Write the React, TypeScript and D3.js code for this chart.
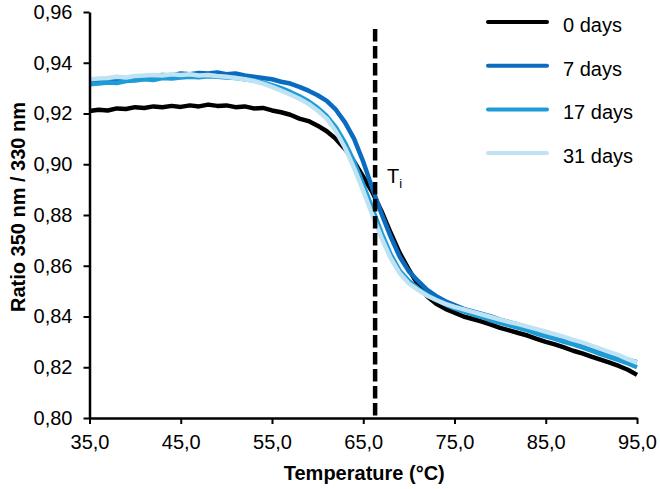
import React, { useEffect, useRef } from 'react'
import * as d3 from 'd3'

// temperatures, 1 °C steps
const temps: number[] = d3.range(35, 96, 1)

const day0: number[] = [
  0.9210, 0.9215, 0.9212, 0.9220, 0.9218, 0.9225, 0.9222, 0.9228, 0.9225, 0.9230,
  0.9226, 0.9232, 0.9228, 0.9235, 0.9230, 0.9232, 0.9225, 0.9228, 0.9220, 0.9222,
  0.9212, 0.9205, 0.9195, 0.9180, 0.9170, 0.9152, 0.9130, 0.9100, 0.9060, 0.9010,
  0.8950, 0.8890, 0.8815, 0.8730, 0.8650, 0.8585, 0.8525, 0.8480, 0.8450, 0.8430,
  0.8415, 0.8400, 0.8390, 0.8380, 0.8368, 0.8355, 0.8345, 0.8335, 0.8325, 0.8312,
  0.8300, 0.8290, 0.8278, 0.8265, 0.8255, 0.8242, 0.8230, 0.8218, 0.8205, 0.8190,
  0.8170,
]

const day7: number[] = [
  0.9320, 0.9325, 0.9330, 0.9332, 0.9338, 0.9340, 0.9345, 0.9348, 0.9352, 0.9350,
  0.9358, 0.9355, 0.9360, 0.9358, 0.9362, 0.9355, 0.9358, 0.9350, 0.9345, 0.9340,
  0.9335, 0.9325, 0.9318, 0.9305, 0.9290, 0.9272, 0.9250, 0.9215, 0.9165, 0.9100,
  0.9010, 0.8905, 0.8805, 0.8715, 0.8635, 0.8578, 0.8540, 0.8505, 0.8480, 0.8460,
  0.8445, 0.8430, 0.8420, 0.8410, 0.8400, 0.8388, 0.8378, 0.8368, 0.8358, 0.8345,
  0.8335, 0.8325, 0.8315, 0.8302, 0.8290, 0.8280, 0.8265, 0.8255, 0.8240, 0.8230,
  0.8220,
]

const day17: number[] = [
  0.9315, 0.9318, 0.9322, 0.9320, 0.9328, 0.9330, 0.9335, 0.9332, 0.9340, 0.9338,
  0.9342, 0.9345, 0.9343, 0.9347, 0.9345, 0.9342, 0.9340, 0.9335, 0.9330, 0.9322,
  0.9312, 0.9300, 0.9285, 0.9268, 0.9248, 0.9222, 0.9190, 0.9145, 0.9085, 0.9010,
  0.8920, 0.8825, 0.8730, 0.8645, 0.8580, 0.8540, 0.8510, 0.8485, 0.8465, 0.8448,
  0.8432, 0.8420, 0.8408, 0.8398, 0.8385, 0.8375, 0.8365, 0.8355, 0.8345, 0.8332,
  0.8322, 0.8312, 0.8300, 0.8290, 0.8278, 0.8265, 0.8252, 0.8240, 0.8228, 0.8215,
  0.8200,
]

const day31: number[] = [
  0.9335, 0.9338, 0.9340, 0.9345, 0.9342, 0.9348, 0.9350, 0.9352, 0.9350, 0.9355,
  0.9352, 0.9355, 0.9350, 0.9352, 0.9348, 0.9345, 0.9340, 0.9335, 0.9328, 0.9318,
  0.9305, 0.9290, 0.9275, 0.9258, 0.9238, 0.9212, 0.9180, 0.9130, 0.9065, 0.8985,
  0.8895, 0.8800, 0.8710, 0.8630, 0.8570, 0.8530, 0.8505, 0.8482, 0.8465, 0.8450,
  0.8438, 0.8428, 0.8418, 0.8408, 0.8398, 0.8388, 0.8378, 0.8370, 0.8360, 0.8350,
  0.8340, 0.8330, 0.8320, 0.8308, 0.8298, 0.8285, 0.8272, 0.8260, 0.8248, 0.8232,
  0.8218,
]

const seriesNames: string[] = ['0 days', '7 days', '17 days', '31 days']
const seriesColors: string[] = ['#000000', '#0a6cc0', '#1e9cd8', '#c0e3f4']
const seriesValues: number[][] = [day0, day7, day17, day31]

const xTicks: number[] = [35, 45, 55, 65, 75, 85, 95]
const yTicks: number[] = [0.8, 0.82, 0.84, 0.86, 0.88, 0.9, 0.92, 0.94, 0.96]
const inflectionTemp = 66.3

const W = 660
const H = 489
const font = 'Arial, "Liberation Sans", sans-serif'

const App = () => {
  const svgRef = useRef<SVGSVGElement>(null)

  useEffect(() => {
    if (!svgRef.current) return
    const svg = d3.select(svgRef.current)
    svg.selectAll('*').remove()

    const x = d3.scaleLinear().domain([35, 95]).range([89.5, 637])
    const y = d3.scaleLinear().domain([0.8, 0.96]).range([418, 12])

    const comma = (s: string) => s.replace('.', ',')

    // series lines, first drawn sits underneath
    const line = d3.line<number>()
      .x((_, i) => x(temps[i]))
      .y((d) => y(d))

    svg.append('g')
      .selectAll('path')
      .data(seriesValues)
      .join('path')
      .attr('d', (d) => line(d))
      .attr('fill', 'none')
      .attr('stroke', (_, i) => seriesColors[i])
      .attr('stroke-width', 4.5)
      .attr('stroke-linejoin', 'round')

    // axes
    const xAxis = d3.axisBottom(x)
      .tickValues(xTicks)
      .tickSize(6)
      .tickSizeOuter(0)
      .tickFormat((d) => comma(d3.format('.1f')(d as number)))
    const yAxis = d3.axisLeft(y)
      .tickValues(yTicks)
      .tickSize(6)
      .tickSizeOuter(0)
      .tickFormat((d) => comma(d3.format('.2f')(d as number)))

    const gx = svg.append('g').attr('transform', `translate(0,${y(0.8)})`).call(xAxis)
    const gy = svg.append('g').attr('transform', `translate(${x(35)},0)`).call(yAxis)

    for (const g of [gx, gy]) {
      g.select('.domain').attr('stroke', '#000').attr('stroke-width', 2.5)
      g.selectAll('.tick line').attr('stroke', '#000').attr('stroke-width', 2)
      g.selectAll('.tick text')
        .attr('fill', '#000')
        .style('font-family', font)
        .style('font-size', '20px')
    }
    gx.selectAll('.tick text').attr('y', 31).attr('dy', 0)
    gy.selectAll('.tick text').attr('x', -17)

    // inflection marker
    svg.append('line')
      .attr('x1', x(inflectionTemp))
      .attr('x2', x(inflectionTemp))
      .attr('y1', 29)
      .attr('y2', y(0.8))
      .attr('stroke', '#000')
      .attr('stroke-width', 4.5)
      .attr('stroke-dasharray', '12.5,4.5')

    const ti = svg.append('text')
      .attr('x', x(inflectionTemp) + 12)
      .attr('y', 183)
      .style('font-family', font)
      .style('font-size', '20px')
      .attr('fill', '#000')
    ti.append('tspan').text('T')
    ti.append('tspan').attr('dy', 5).style('font-size', '13px').text('i')

    // axis titles
    svg.append('text')
      .attr('x', (x(35) + x(95)) / 2 + 1)
      .attr('y', 480)
      .attr('text-anchor', 'middle')
      .style('font-family', font)
      .style('font-size', '20px')
      .style('font-weight', 'bold')
      .text('Temperature (°C)')

    svg.append('text')
      .attr('transform', `translate(25,${(y(0.8) + y(0.96)) / 2 - 8}) rotate(-90)`)
      .attr('text-anchor', 'middle')
      .style('font-family', font)
      .style('font-size', '20px')
      .style('font-weight', 'bold')
      .text('Ratio 350 nm / 330 nm')

    // legend
    const legend = svg.append('g')
      .selectAll('g')
      .data(seriesNames)
      .join('g')
      .attr('transform', (_, i) => `translate(0,${22 + i * 43.7})`)
    legend.append('line')
      .attr('x1', 488)
      .attr('x2', 547)
      .attr('stroke', (_, i) => seriesColors[i])
      .attr('stroke-width', 4)
      .attr('stroke-linecap', 'round')
    legend.append('text')
      .attr('x', 563)
      .attr('dy', 10)
      .style('font-family', font)
      .style('font-size', '20px')
      .text((d) => d)
  }, [])

  return (
    <svg
      ref={svgRef}
      width={W}
      height={H}
      style={{ position: 'absolute', left: 0, top: 0, background: '#fff' }}
    />
  )
}

export default App
